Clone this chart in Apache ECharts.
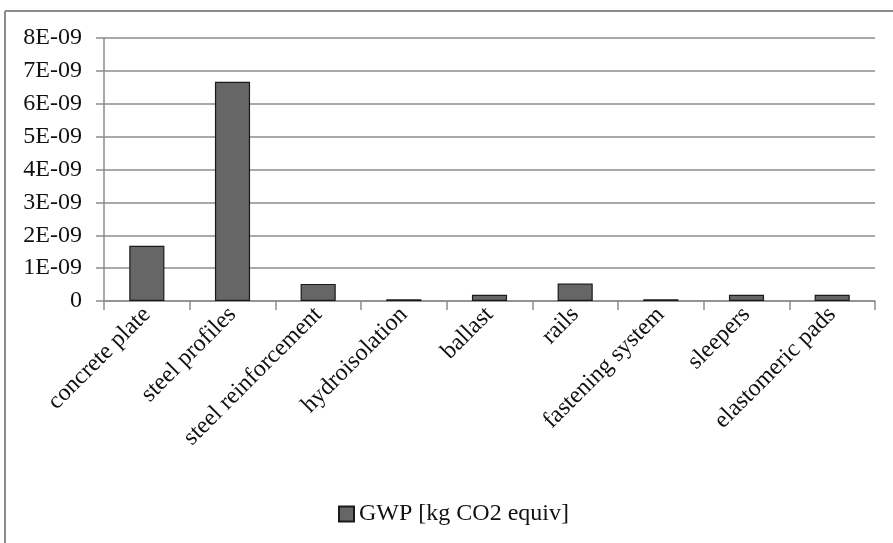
<!DOCTYPE html>
<html><head><meta charset="utf-8">
<script src="https://cdn.jsdelivr.net/npm/echarts@6/dist/echarts.min.js"></script>
<style>html,body{margin:0;padding:0;background:#fff}#c{width:893px;height:543px}</style>
</head><body><div id="c"></div>
<script>
const categories = ['concrete plate','steel profiles','steel reinforcement','hydroisolation','ballast','rails','fastening system','sleepers','elastomeric pads'];
const gwpValues = [1.68e-9, 6.67e-9, 0.52e-9, 0.05e-9, 0.19e-9, 0.53e-9, 0.05e-9, 0.19e-9, 0.19e-9];
const yTickLabels = ['0','1E-09','2E-09','3E-09','4E-09','5E-09','6E-09','7E-09','8E-09'];
const seriesName = 'GWP [kg CO2 equiv]';

const chart = echarts.init(document.getElementById('c'), null, {renderer:'canvas'});
const font = 'Liberation Serif';
chart.setOption({
  animation:false,
  backgroundColor:'#fff',
  graphic:[
    {type:'line',shape:{x1:5,y1:11,x2:893,y2:11},style:{stroke:'#8c8c8c',lineWidth:2},silent:true},
    {type:'line',shape:{x1:5,y1:11,x2:5,y2:543},style:{stroke:'#8c8c8c',lineWidth:2},silent:true}
  ],
  grid:{left:104,right:18,top:38,bottom:242,containLabel:false},
  legend:{top:497,left:333,itemWidth:15,itemHeight:15,itemGap:6,icon:'rect',
    textStyle:{fontFamily:font,fontSize:24,color:'#111'},data:[seriesName]},
  xAxis:{type:'category',data:categories,boundaryGap:true,
    axisLine:{lineStyle:{color:'#8c8c8c',width:1.5}},
    axisTick:{show:true,alignWithLabel:false,length:9,lineStyle:{color:'#8c8c8c',width:1.5}},
    axisLabel:{rotate:45,interval:0,fontFamily:font,fontSize:24,color:'#111',margin:10}},
  yAxis:{type:'value',min:0,max:8e-9,interval:1e-9,
    axisLine:{show:true,lineStyle:{color:'#8c8c8c',width:1.5}},
    axisTick:{show:true,length:8,lineStyle:{color:'#8c8c8c',width:1.5}},
    splitLine:{lineStyle:{color:'#8c8c8c',width:1.5}},
    axisLabel:{fontFamily:font,fontSize:24,color:'#111',margin:22,
      formatter:function(v){const i=Math.round(v/1e-9);return yTickLabels[i];}}},
  series:[{name:seriesName,type:'bar',data:gwpValues,barWidth:'41%',
    itemStyle:{color:'#666666',borderColor:'#1a1a1a',borderWidth:1.2}}]
});
</script></body></html>
